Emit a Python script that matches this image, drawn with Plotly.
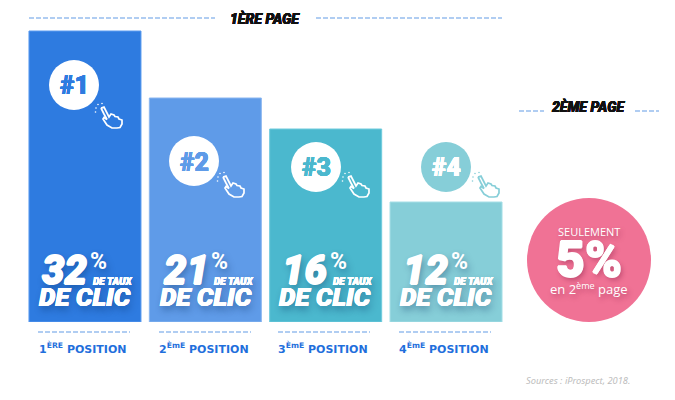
import plotly.graph_objects as go

W, H = 675, 400

# ---- data ----
positions = ["1ère", "2ème", "3ème", "4ème"]
position_labels = ["1<sup>ÈRE</sup> POSITION", "2<sup>ÈmE</sup> POSITION",
                   "3<sup>ÈmE</sup> POSITION", "4<sup>ÈmE</sup> POSITION"]
bar_heights = [291, 224, 193, 120]          # drawn height of the bars (not proportional to the rates)
click_rates = [32, 21, 16, 12]
ranks = ["#1", "#2", "#3", "#4"]
bar_colors = ["#2e7be0", "#5f9be8", "#4bb8ce", "#86ced8"]
edge_colors = ["#5a9bf0", "#8ab6f0", "#6fcbdc", "#a5dee6"]
second_page_rate = 5

AXIS_LEFT, AXIS_RIGHT, AXIS_BOTTOM = 24.8, 506.2, 322
BLUE_DASH = "#b0cdf2"
HEAVY = "Roboto"


def px(x):
    return x / W


def py(y):
    return 1 - y / H


fig = go.Figure(go.Bar(
    x=positions, y=bar_heights,
    marker=dict(color=bar_colors, line=dict(color=edge_colors, width=1)),
    hoverinfo="skip",
))

shapes, anns = [], []


def dash(x0, x1, y):
    shapes.append(dict(type="line", xref="paper", yref="paper", x0=px(x0), x1=px(x1),
                       y0=py(y), y1=py(y), line=dict(color=BLUE_DASH, width=2, dash="5px 2px")))


def text(x, y, s, size, color="#ffffff", weight=400, style="normal", family=HEAVY,
         anchor="center", shadow="none"):
    anns.append(dict(xref="paper", yref="paper", x=px(x), y=py(y), text=s, showarrow=False,
                     xanchor=anchor, yanchor="middle",
                     font=dict(size=size, color=color, weight=weight, style=style,
                               family=family, shadow=shadow)))


def circle(cx, cy, r, color):
    shapes.append(dict(type="circle", xref="paper", yref="paper", x0=px(cx - r), x1=px(cx + r),
                       y0=py(cy - r), y1=py(cy + r), fillcolor=color, line=dict(width=0)))


# outline of the pointing hand, relative to the top-left of its box
HAND = [(6, 5), (9, 4), (12, 10), (14, 14), (16, 11), (19, 12), (20, 13.5), (23, 14), (24, 16),
        (27, 17), (27, 21), (25, 24.5), (22, 25), (17, 25), (12, 22), (8, 16), (9, 14.5), (12, 16.5),
        (9, 11), (6, 5)]
HAND_DOTS = [(1, 5), (3, 1.5), (7, 0.5), (0.5, 9)]


def hand(x0, y0, color):
    pts = [f"{px(x0 + dx)},{py(y0 + dy)}" for dx, dy in HAND]
    shapes.append(dict(type="path", xref="paper", yref="paper", path="M " + " L ".join(pts),
                       line=dict(color=color, width=1.7), fillcolor="rgba(0,0,0,0)"))
    for dx, dy in HAND_DOTS:
        circle(x0 + dx, y0 + dy, 0.8, color)


def fat(c, w, tail):
    return f"{w}px 0 0 {c}, -{w}px 0 0 {c}, 0 {w}px 0 {c}, 0 -{w}px 0 {c}, {tail}"


# headers
dash(29, 215, 18)
dash(316, 502, 18)
dash(519, 544, 111)
dash(635, 659, 111)
text(264.5, 18, "1ÈRE PAGE", 14, "#111111", 900, "italic", shadow=fat("#111111", 0.2, "0 0 0 #111"))
text(588, 106.5, "2ÈME PAGE", 14, "#111111", 900, "italic", shadow=fat("#111111", 0.2, "0 0 0 #111"))

badges = [(74, 85), (194, 161), (316, 167), (446, 167)]
hands = [(95, 103), (217, 172), (342, 172), (472, 172)]
bar_left = [29, 150, 269, 390]
TAIL = "2px 4px 7px rgba(0,40,90,0.4)"

for i, lab in enumerate(position_labels):
    bx = bar_left[i]
    badge = badges[i]
    badge_color = "#ffffff" if i < 3 else bar_colors[3]
    rank_color = bar_colors[i] if i < 3 else "#ffffff"
    hand_color = "#ffffff" if i < 3 else bar_colors[3]
    circle(badge[0], badge[1], 25, badge_color)
    hand(hands[i][0], hands[i][1], hand_color)
    text(badge[0], badge[1] + 1, ranks[i], 25, rank_color, 900,
         shadow=fat(rank_color, 0.3, "0 0 0 " + rank_color))

    text(bx + 11, 270, str(click_rates[i]), 40, "#ffffff", 900, "italic", anchor="left",
         shadow=fat("#ffffff", 0.7, TAIL))
    text(bx + 69, 261, "%", 23, "#ffffff", 700, "normal", shadow=TAIL)
    text(bx + 105, 281, "DE TAUX", 10, "#ffffff", 900, "italic", anchor="right",
         shadow=fat("#ffffff", 0.2, TAIL))
    text(bx + 56, 297, "DE CLIC", 26, "#ffffff", 900, "italic",
         shadow=fat("#ffffff", 0.4, TAIL))

    dash(bx + 9, bx + 101, 332)
    text(bx + 54, 347.5, lab, 11, "#1f6fdc", 700, family="DejaVu Sans")

# second page bubble
circle(589, 260, 62, "#f07295")
TAIL2 = "2px 3px 5px rgba(120,20,60,0.4)"
text(589, 231, "SEULEMENT", 11, "#ffffff", 500, family="Open Sans", shadow=TAIL2)
text(589, 260, f"{second_page_rate}%", 50, "#ffffff", 900, family=HEAVY,
     shadow=fat("#ffffff", 0.8, TAIL2))
text(589, 288, "en 2<sup>ème</sup> page", 13, "#ffffff", 500, family="Open Sans", shadow=TAIL2)

text(577.5, 380.5, "Sources : iProspect, 2018.", 9.3, "#bdbdbd", 400, "italic", family="Noto Sans")

fig.update_layout(
    width=W, height=H, margin=dict(l=0, r=0, t=0, b=0),
    paper_bgcolor="#ffffff", plot_bgcolor="#ffffff",
    showlegend=False, bargap=1 - 112 / 120.35,
    xaxis=dict(domain=[px(AXIS_LEFT), px(AXIS_RIGHT)], range=[-0.5, 3.5], visible=False,
               type="category", categoryorder="array", categoryarray=positions),
    yaxis=dict(domain=[py(AXIS_BOTTOM), 1], range=[0, AXIS_BOTTOM], visible=False),
    shapes=shapes, annotations=anns,
)
for s in fig.layout.shapes:
    s.layer = "above"

fig.write_html("out.html", config=dict(displayModeBar=False),
               post_script="document.body.style.margin='0';")
